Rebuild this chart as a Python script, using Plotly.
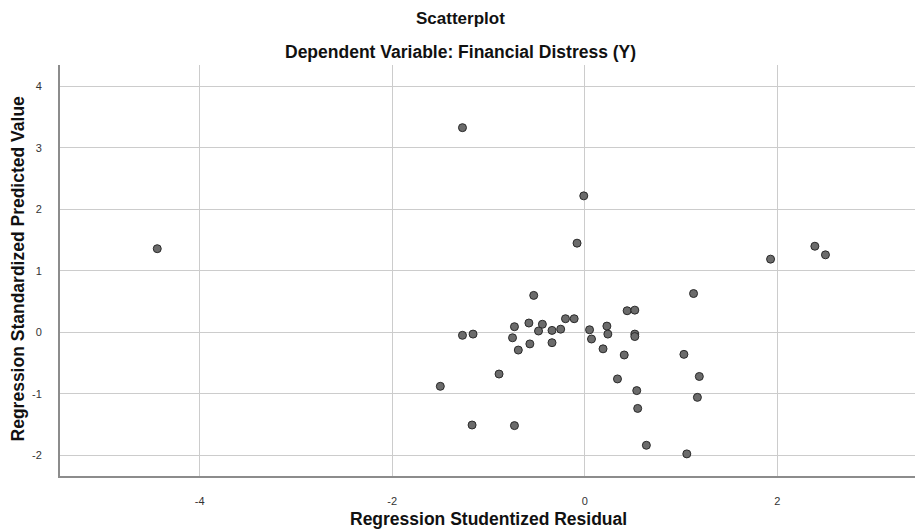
import plotly.graph_objects as go

# Regression Studentized Residual (x) and Regression Standardized Predicted Value (y)
residual = [-4.44, -1.27, -0.01, -0.08, 1.93, 2.39, 2.50,
            -0.53, 1.13, 0.44, 0.52, -1.27, -1.16, -0.73, -0.58, -0.44, -0.48,
            -0.34, -0.25, -0.20, -0.11, -0.75, -0.57, -0.69, -0.34, 0.05, 0.07,
            0.23, 0.24, 0.19, 0.52, 0.52, 0.41, 1.03, -0.89, -1.50, 0.34, 1.19,
            0.54, 1.17, 0.55, -1.17, -0.73, 0.64, 1.06]
predicted = [1.36, 3.33, 2.22, 1.45, 1.19, 1.40, 1.26,
             0.60, 0.63, 0.35, 0.36, -0.05, -0.03, 0.09, 0.15, 0.13, 0.02,
             0.03, 0.05, 0.22, 0.22, -0.09, -0.19, -0.29, -0.17, 0.04, -0.11,
             0.10, -0.03, -0.27, -0.03, -0.07, -0.37, -0.36, -0.68, -0.88, -0.76, -0.72,
             -0.95, -1.06, -1.24, -1.51, -1.52, -1.84, -1.98]

x_ticks = [-4, -2, 0, 2]
y_ticks = [-2, -1, 0, 1, 2, 3, 4]

title_text = "Scatterplot"
subtitle_text = "Dependent Variable: Financial Distress (Y)"
x_title = "Regression Studentized Residual"
y_title = "Regression Standardized Predicted Value"

FONT = "Liberation Sans, Arial, sans-serif"

fig = go.Figure()
fig.add_trace(go.Scatter(
    x=residual, y=predicted, mode="markers",
    marker=dict(size=8, color="#6b6b6b", line=dict(color="#2a2a2a", width=1)),
    hoverinfo="x+y", showlegend=False,
))

# the page body has an 8px margin, so the figure is sized to fit the window
fig.update_layout(
    width=915, height=522,
    margin=dict(l=52, r=8, t=57, b=54, autoexpand=False),
    paper_bgcolor="white", plot_bgcolor="white",
    font=dict(family=FONT, color="#222222"),
    annotations=[
        dict(text="<b>" + title_text + "</b>", xref="paper", yref="paper",
             x=0.468, y=1, yshift=47, xanchor="center", yanchor="middle",
             showarrow=False, font=dict(size=17, color="#111111")),
        dict(text="<b>" + subtitle_text + "</b>", xref="paper", yref="paper",
             x=0.468, y=1, yshift=13, xanchor="center", yanchor="middle",
             showarrow=False, font=dict(size=17.5, color="#111111")),
        dict(text="<b>" + x_title + "</b>", xref="paper", yref="paper",
             x=0.501, y=0, yshift=-43, xanchor="center", yanchor="middle",
             showarrow=False, font=dict(size=17.5, color="#111111")),
        dict(text="<b>" + y_title + "</b>", xref="paper", yref="paper",
             x=0, y=0.505, xshift=-42, xanchor="center", yanchor="middle",
             textangle=-90, showarrow=False, font=dict(size=17.5, color="#111111")),
    ],
)

fig.update_xaxes(
    range=[-5.45, 3.43], tickvals=x_ticks, ticktext=[str(v) for v in x_ticks],
    showgrid=True, gridcolor="#cccccc", gridwidth=1.3, zeroline=False,
    showline=True, linecolor="#8c8c8c", linewidth=2, automargin=False,
    ticks="outside", ticklen=14, tickcolor="rgba(0,0,0,0)",
    tickfont=dict(size=11, color="#333333", family=FONT),
)
fig.update_yaxes(
    range=[-2.34, 4.35], tickvals=y_ticks, ticktext=[str(v) for v in y_ticks],
    showgrid=True, gridcolor="#cccccc", gridwidth=1.3, zeroline=False,
    showline=True, linecolor="#8c8c8c", linewidth=2, automargin=False,
    ticks="outside", ticklen=14, tickcolor="rgba(0,0,0,0)",
    tickfont=dict(size=11, color="#333333", family=FONT),
)

fig.write_html("out.html")
